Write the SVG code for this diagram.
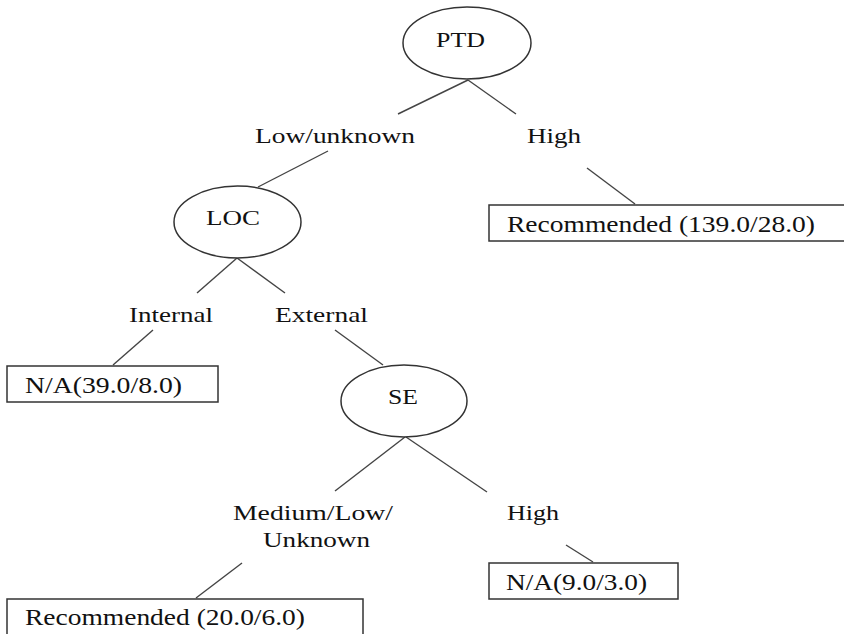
<svg xmlns="http://www.w3.org/2000/svg" width="844" height="634" viewBox="0 0 844 634">
<style>
.n{fill:#fff;stroke:#333;stroke-width:1.5}
.c line{stroke:#444;stroke-width:1.4}
text{font-family:"Liberation Serif","Times New Roman",serif;fill:#111}
.l{font-size:22px}
.b{font-size:23px}
</style>
<rect width="844" height="634" fill="#fff"/>
<g id="connectors" class="c">
<line x1="468" y1="80" x2="398" y2="114"/>
<line x1="468" y1="80" x2="516" y2="114"/>
<line x1="328" y1="151" x2="258" y2="187"/>
<line x1="587" y1="168" x2="635" y2="204"/>
<line x1="237" y1="258" x2="197" y2="293"/>
<line x1="237" y1="258" x2="285" y2="293"/>
<line x1="153" y1="330" x2="113" y2="365"/>
<line x1="335" y1="330" x2="383" y2="365"/>
<line x1="405" y1="437" x2="335" y2="491"/>
<line x1="406" y1="437" x2="487" y2="492"/>
<line x1="242" y1="563" x2="196" y2="598"/>
<line x1="566" y1="545" x2="593" y2="562"/>
</g>
<g id="labels">
<text class="l" x="255" y="143" textLength="160" lengthAdjust="spacingAndGlyphs">Low/unknown</text>
<text class="l" x="527" y="143" textLength="54" lengthAdjust="spacingAndGlyphs">High</text>
<text class="l" x="129" y="322" textLength="84" lengthAdjust="spacingAndGlyphs">Internal</text>
<text class="l" x="275" y="322" textLength="93" lengthAdjust="spacingAndGlyphs">External</text>
<text class="l" x="233" y="520" textLength="160" lengthAdjust="spacingAndGlyphs">Medium/Low/</text>
<text class="l" x="263" y="547" textLength="107" lengthAdjust="spacingAndGlyphs">Unknown</text>
<text class="l" x="507" y="520" textLength="52" lengthAdjust="spacingAndGlyphs">High</text>
</g>
<g id="PTD">
<ellipse class="n" cx="467" cy="43" rx="64" ry="36"/>
<text class="l" x="436" y="47" textLength="49" lengthAdjust="spacingAndGlyphs">PTD</text>
</g>
<g id="LOC">
<ellipse class="n" cx="237.5" cy="222" rx="63.5" ry="36"/>
<text class="l" x="206" y="225" textLength="54" lengthAdjust="spacingAndGlyphs">LOC</text>
</g>
<g id="SE">
<ellipse class="n" cx="404" cy="401" rx="63" ry="36"/>
<text class="l" x="388" y="404" textLength="30" lengthAdjust="spacingAndGlyphs">SE</text>
</g>
<g id="leaf-recommended-139">
<rect class="n" x="489" y="205" width="370" height="36"/>
<text class="b" x="507" y="232" textLength="308" lengthAdjust="spacingAndGlyphs">Recommended (139.0/28.0)</text>
</g>
<g id="leaf-na-39">
<rect class="n" x="7" y="366" width="211" height="36"/>
<text class="b" x="25" y="393" textLength="157" lengthAdjust="spacingAndGlyphs">N/A(39.0/8.0)</text>
</g>
<g id="leaf-na-9">
<rect class="n" x="489" y="563" width="189" height="36"/>
<text class="b" x="506" y="590" textLength="141" lengthAdjust="spacingAndGlyphs">N/A(9.0/3.0)</text>
</g>
<g id="leaf-recommended-20">
<rect class="n" x="7" y="599" width="356" height="45"/>
<text class="b" x="25" y="625" textLength="280" lengthAdjust="spacingAndGlyphs">Recommended (20.0/6.0)</text>
</g>
</svg>
